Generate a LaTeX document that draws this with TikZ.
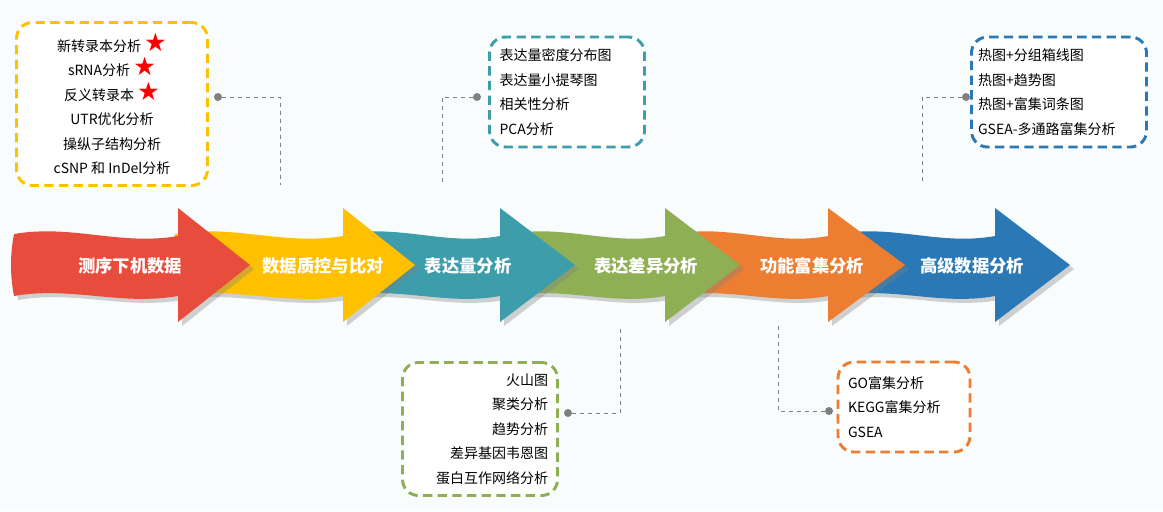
\documentclass[tikz,border=0pt]{standalone}
\usepackage{fontspec}
\setmainfont{Noto Sans CJK SC}
\newfontfamily\symfont{DejaVu Sans}
\usetikzlibrary{shadows}
\definecolor{bgc}{HTML}{F8FCFC}
\definecolor{cred}{HTML}{E84C3D}
\definecolor{cyel}{HTML}{FFC000}
\definecolor{cteal}{HTML}{3D9DAA}
\definecolor{cgreen}{HTML}{8FAF55}
\definecolor{corange}{HTML}{ED7D31}
\definecolor{cblue}{HTML}{2A78B5}
\tikzstyle{stage} = [text=white, font=\bfseries\fontsize{13}{14}\selectfont]
\tikzstyle{infobox} = [rectangle, rounded corners=12pt, dashed, line width=2.2pt, dash pattern=on 7pt off 4pt, fill=white, inner sep=0pt, font=\fontsize{10.5}{18.4}\selectfont]
\tikzstyle{link} = [gray, dashed, line width=0.7pt]
\tikzstyle{dot} = [circle, fill=gray, inner sep=0pt, minimum size=6pt]
\newcommand{\flowarrow}[4]{%
  \fill[#4, drop shadow={opacity=0.35, shadow xshift=3pt, shadow yshift=-3pt}]
    (#1,234) .. controls ({#1+0.35*(#2-#1)},224) and ({#1+0.65*(#2-#1)},246) .. (#2,236)
    -- (#2,208) -- (#3,265) -- (#2,322) -- (#2,296)
    .. controls ({#1+0.65*(#2-#1)},306) and ({#1+0.35*(#2-#1)},286) .. (#1,296)
    .. controls ({#1-4},275) and ({#1-4},255) .. cycle;}
\newcommand{\starr}{\textcolor{red}{\symfont\fontsize{19}{15}\selectfont ★}}

\begin{document}
\begin{tikzpicture}[x=0.75pt, y=-0.75pt]
    \fill[bgc] (0,0) rectangle (1163,511);
    \useasboundingbox (0,0) rectangle (1163,511);

    % arrows, back to front
    \flowarrow{838}{995}{1070}{cblue}
    \flowarrow{675}{828}{905}{corange}
    \flowarrow{510}{665}{740}{cgreen}
    \flowarrow{345}{500}{575}{cteal}
    \flowarrow{175}{343}{415}{cyel}
    \flowarrow{14}{178}{250}{cred}

    \node (raw) [stage] at (130,266) {测序下机数据};
    \node (qc) [stage] at (323,266) {数据质控与比对};
    \node (expr) [stage] at (468,266) {表达量分析};
    \node (deg) [stage] at (646,266) {表达差异分析};
    \node (enrich) [stage] at (812,266) {功能富集分析};
    \node (adv) [stage] at (972,266) {高级数据分析};

    % boxes
    \node (qcbox) [infobox, draw=cyel, minimum width=191*0.75pt, minimum height=163*0.75pt, align=center] at (112,104)
        {新转录本分析 \starr\\ sRNA分析 \starr\\ 反义转录本 \starr\\ UTR优化分析\\ 操纵子结构分析\\ cSNP 和 InDel分析};
    \node (exprbox) [infobox, draw=cteal, minimum width=155*0.75pt, minimum height=110*0.75pt, align=left, text width=135*0.75pt] at (567,92)
        {表达量密度分布图\\ 表达量小提琴图\\ 相关性分析\\ PCA分析};
    \node (advbox) [infobox, draw=cblue, minimum width=175*0.75pt, minimum height=110*0.75pt, align=left, text width=162*0.75pt] at (1059,92)
        {热图+分组箱线图\\ 热图+趋势图\\ 热图+富集词条图\\ GSEA-多通路富集分析};
    \node (degbox) [infobox, draw=cgreen, minimum width=155*0.75pt, minimum height=133*0.75pt, align=right, text width=136*0.75pt] at (480,429)
        {火山图\\ 聚类分析\\ 趋势分析\\ 差异基因韦恩图\\ 蛋白互作网络分析};
    \node (enrichbox) [infobox, draw=corange, minimum width=132*0.75pt, minimum height=90*0.75pt, align=left, text width=112*0.75pt] at (904,407)
        {GO富集分析\\ KEGG富集分析\\ GSEA};

    % links
    \node (qcdot) [dot] at (218,97) {};
    \node (exprdot) [dot] at (477,97) {};
    \node (advdot) [dot] at (966,97) {};
    \node (degdot) [dot] at (568,413) {};
    \node (enrichdot) [dot] at (829,411) {};
    \coordinate (qcend) at (280,185);
    \coordinate (exprend) at (442,185);
    \coordinate (advend) at (922,185);
    \coordinate (degend) at (620,325);
    \coordinate (enrichend) at (778,325);
    \draw [link] (qcdot) -| (qcend);
    \draw [link] (exprdot) -| (exprend);
    \draw [link] (advdot) -| (advend);
    \draw [link] (degdot) -| (degend);
    \draw [link] (enrichdot) -| (enrichend);
\end{tikzpicture}
\end{document}
